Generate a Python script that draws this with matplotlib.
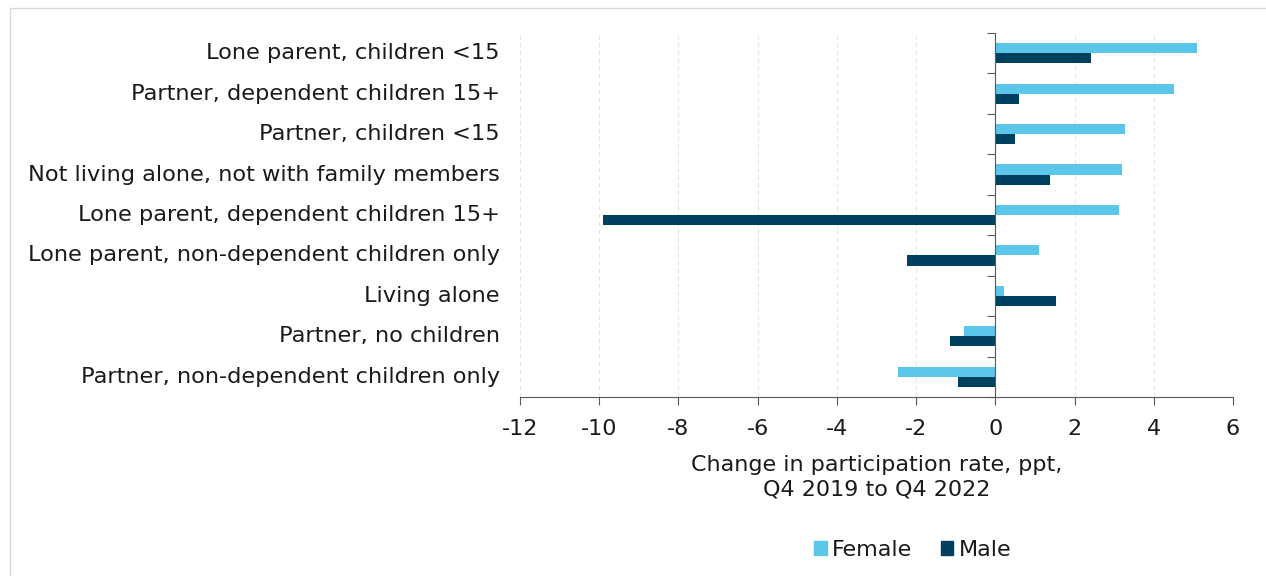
import matplotlib.pyplot as plt
import matplotlib.patches as mpatches
import numpy as np

# categories (top to bottom) and changes in participation rate, ppt
categories = [
    'Lone parent, children <15',
    'Partner, dependent children 15+',
    'Partner, children <15',
    'Not living alone, not with family members',
    'Lone parent, dependent children 15+',
    'Lone parent, non-dependent children only',
    'Living alone',
    'Partner, no children',
    'Partner, non-dependent children only',
]
female = [5.10, 4.52, 3.27, 3.21, 3.12, 1.10, 0.21, -0.80, -2.46]
male = [2.42, 0.60, 0.49, 1.37, -9.91, -2.24, 1.53, -1.14, -0.93]
xticks = [-12, -10, -8, -6, -4, -2, 0, 2, 4, 6]

female_color = '#5BC5EA'
male_color = '#00405F'
axis_color = '#595959'
text_color = '#1a1a1a'

plt.rcParams['font.family'] = 'DejaVu Sans'
plt.rcParams['font.size'] = 16

fig = plt.figure(figsize=(12.66, 5.76), dpi=100)
ax = fig.add_axes([0.4107, 0.3108, 0.5632, 0.6319])

y = np.arange(len(categories))
h = 0.25
ax.barh(y - h / 2, female, height=h, color=female_color, label='Female')
ax.barh(y + h / 2, male, height=h, color=male_color, label='Male')

ax.set_xlim(-12, 6)
ax.set_ylim(len(categories) - 0.5, -0.5)
ax.set_xticks(xticks)
ax.set_xticklabels([str(t) for t in xticks])
ax.xaxis.grid(True, color='#e3e3e3', linestyle=(0, (4, 3)), linewidth=0.8)
ax.set_axisbelow(True)

# vertical axis drawn at zero, ticks at category boundaries
for s in ['top', 'right']:
    ax.spines[s].set_visible(False)
ax.spines['left'].set_position(('data', 0))
ax.spines['left'].set_color(axis_color)
ax.spines['bottom'].set_color(axis_color)
ax.set_yticks(np.arange(-0.5, len(categories), 1.0))
ax.set_yticklabels([])
ax.tick_params(axis='y', direction='out', length=6, color=axis_color)
ax.tick_params(axis='x', direction='out', length=6, color=axis_color,
               labelsize=16, labelcolor=text_color, pad=9.5)

for i, c in enumerate(categories):
    ax.text(-0.028, i, c, transform=ax.get_yaxis_transform(),
            ha='right', va='center', fontsize=16.2, color=text_color)

fig.text(877 / 1266, 1 - 477 / 576,
         'Change in participation rate, ppt,\nQ4 2019 to Q4 2022',
         ha='center', va='center', fontsize=16, color=text_color,
         linespacing=1.3)

handles = [mpatches.Patch(color=female_color, label='Female'),
           mpatches.Patch(color=male_color, label='Male')]
fig.legend(handles=handles, loc='center', bbox_to_anchor=(913 / 1266, 1 - 550 / 576),
           ncol=2, frameon=False, fontsize=16, handlelength=0.55,
           handleheight=0.55, handletextpad=0.25, columnspacing=1.3,
           labelcolor=text_color)

# light frame around the chart
fig.patches.append(mpatches.Rectangle((10 / 1266, -0.02), 1.0, 1 - 8 / 576 + 0.02,
                                      transform=fig.transFigure, fill=False,
                                      edgecolor='#d9d9d9', linewidth=1))

fig.savefig('out.png', dpi=100)
